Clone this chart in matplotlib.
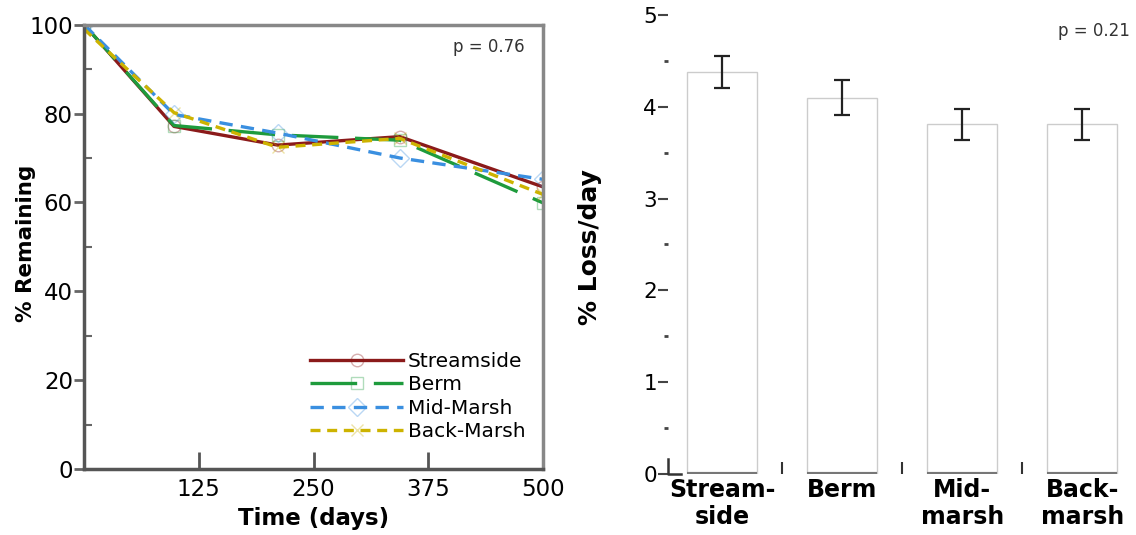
import matplotlib
matplotlib.use("Agg")
import matplotlib.pyplot as plt
from matplotlib.colors import to_rgba
from matplotlib.ticker import MultipleLocator
import numpy as np

plt.rcParams['font.family'] = ['DejaVu Sans']

# ---- decomposition data (% remaining over time) ----
days = [0, 98, 211, 344, 500]
streamside = [100, 77.1, 72.9, 74.8, 63.5]
berm = [100, 77.3, 75.2, 74.0, 59.9]
mid_marsh = [100, 79.8, 75.6, 70.0, 65.2]
back_marsh = [99, 80.2, 72.4, 74.4, 61.8]

# ---- loss rates per site ----
sites = ["Stream-\nside", "Berm", "Mid-\nmarsh", "Back-\nmarsh"]
loss_rate = [4.38, 4.10, 3.81, 3.81]
loss_err = [0.17, 0.19, 0.17, 0.17]

fig = plt.figure(figsize=(11.36, 5.35), dpi=100)

# ================= left panel =================
ax1 = fig.add_axes([0.074, 0.123, 0.404, 0.831])

series = [
    ("Streamside", streamside, "#8B1A1A", "o", (None, None)),
    ("Berm", berm, "#1E9B3C", "s", (14, 5)),
    ("Mid-Marsh", mid_marsh, "#3A8FE0", "D", (4, 2.5)),
    ("Back-Marsh", back_marsh, "#CDB300", "x", (3, 2)),
]
for name, vals, col, mk, dash in series:
    ln, = ax1.plot(days, vals, color=col, lw=2.4, marker=mk, markersize=9,
                   markerfacecolor="none", markeredgewidth=1.0,
                   markeredgecolor=to_rgba(col, 0.35), label=name)
    if dash[0] is not None:
        ln.set_dashes(dash)

ax1.set_xlim(0, 500)
ax1.set_ylim(0, 100)
ax1.set_xticks([125, 250, 375, 500])
ax1.set_yticks([0, 20, 40, 60, 80, 100])
ax1.yaxis.set_minor_locator(MultipleLocator(10))
ax1.tick_params(axis="y", which="major", direction="out", length=7, width=2,
                color="#666", labelsize=16.5, pad=1)
ax1.tick_params(axis="y", which="minor", direction="in", length=6, width=1.5,
                color="#666")
ax1.tick_params(axis="x", which="major", direction="in", length=12, width=2,
                color="#555", labelsize=16.5, pad=6)
for s in ax1.spines.values():
    s.set_color("#888")
    s.set_linewidth(2.5)
ax1.spines["left"].set_color("#555")
ax1.spines["bottom"].set_color("#555")

ax1.set_xlabel("Time (days)", fontsize=16.5, fontweight="bold", labelpad=5)
ax1.set_ylabel("% Remaining", fontsize=15.5, fontweight="bold")
ax1.yaxis.set_label_coords(-0.105, 0.508)
ax1.text(0.96, 0.95, "p = 0.76", transform=ax1.transAxes, ha="right",
         va="center", fontsize=12, color="#333")

leg = ax1.legend(loc="lower right", bbox_to_anchor=(0.962, 0.063),
                 frameon=False, fontsize=14.5, handlelength=4.6,
                 handletextpad=0.25, labelspacing=0.22, borderpad=0,
                 borderaxespad=0)

# ================= right panel =================
ax2 = fig.add_axes([0.588, 0.114, 0.407, 0.858])
x = np.arange(len(sites))
w = 0.58
ax2.bar(x, loss_rate, width=w, color="white", edgecolor="#cccccc",
        linewidth=1.0)
ax2.errorbar(x, loss_rate, yerr=loss_err, fmt="none", ecolor="#222",
             elinewidth=1.6, capsize=6, capthick=1.6)
# grey base line under each bar
ax2.hlines(np.zeros(len(x)), x - w / 2, x + w / 2, color="#777",
           linewidth=3, zorder=3)

ax2.set_xlim(-0.45, 3.4)
ax2.set_ylim(0, 5)
for s in ax2.spines.values():
    s.set_visible(False)
ax2.set_yticks([0, 1, 2, 3, 4, 5])
ax2.yaxis.set_minor_locator(MultipleLocator(0.5))
ax2.tick_params(axis="y", which="major", direction="out", length=7, width=1.5,
                color="#444", labelsize=15.5, pad=1)
ax2.tick_params(axis="y", which="minor", direction="out", length=3, width=2,
                color="#444", pad=1)
ax2.set_xticks(x)
ax2.set_xticklabels(sites, fontsize=17, fontweight="bold", linespacing=1.15)
ax2.set_xticks([0.5, 1.5, 2.5], minor=True)
ax2.tick_params(axis="x", which="major", length=0, pad=3)
ax2.tick_params(axis="x", which="minor", direction="in", length=9, width=1.5,
                color="#333")
# little corner mark at the origin
ax2.plot([-0.45, -0.45, -0.34], [0.16, 0, 0], color="#333", lw=1.8,
         clip_on=False)

ax2.set_ylabel("% Loss/day", fontsize=18, fontweight="bold")
ax2.yaxis.set_label_coords(-0.142, 0.495)
ax2.text(1.0, 0.965, "p = 0.21", transform=ax2.transAxes, ha="right",
         va="center", fontsize=12, color="#333")

fig.savefig("out.png", dpi=100, facecolor="white")
